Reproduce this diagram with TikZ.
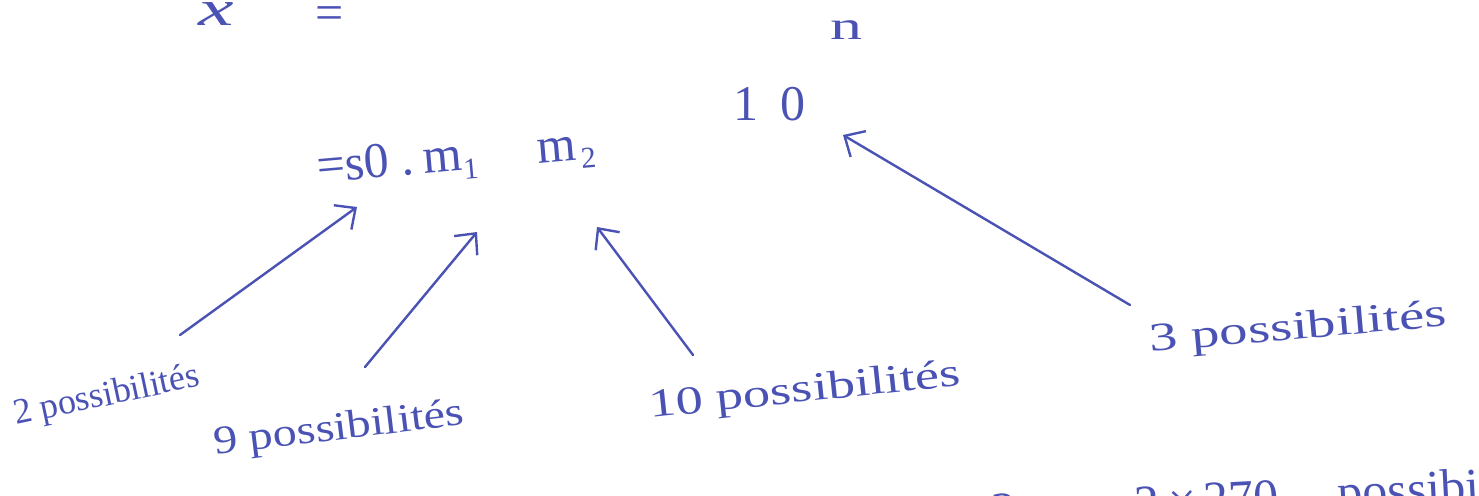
\documentclass[tikz,border=0pt]{standalone}
\usepackage{fontspec}
\setmainfont{Liberation Serif}
\usetikzlibrary{arrows.meta}
\definecolor{ink}{HTML}{4A52B4}
\newcommand{\lowidx}[1]{\raisebox{-9pt}{\fontsize{30}{30}\selectfont #1}}
\tikzset{
  hand/.style={text=ink, font=\fontsize{50}{56}\selectfont, inner sep=0pt},
  small/.style={text=ink, font=\fontsize{40}{46}\selectfont, inner sep=0pt},
  link/.style={draw=ink, line width=2.4pt, line cap=round, -{Straight Barb[length=16pt,width=30pt,line width=2.4pt]}}
}
\begin{document}
\begin{tikzpicture}[x=1pt,y=-1pt]
\useasboundingbox (0,0) rectangle (1479,495);
\begin{scope}
\clip (0,0) rectangle (1479,495);
\node[hand, anchor=base west] (x) at (198,26) {\scalebox{1.6}[1]{\itshape x}\hspace{82pt}\raisebox{-4pt}{=}};
\node[hand, anchor=base west, rotate=5] (expr) at (318,183) {=s0\hspace{12pt}.\hspace{10pt}m\lowidx{1}\hspace{60pt}m\hspace{4pt}\lowidx{2}};
\node[hand, anchor=base west] (ten) at (733,120) {1\hspace{22pt}0};
\node[small, anchor=base west] (exp) at (830,40) {\scalebox{1.6}[1]{n}};
\coordinate (t1) at (357,207);
\coordinate (t2) at (477,232);
\coordinate (t3) at (597,227);
\coordinate (t4) at (843,135);
\node[small, anchor=base west, rotate=12, font=\fontsize{36}{40}\selectfont] (p2) at (16,425) {2 possibilités};
\node[small, anchor=base west, rotate=7] (p9) at (215,455) {\scalebox{1.2}[1]{9 possibilités}};
\node[small, anchor=base west, rotate=6] (p10) at (650,418) {\scalebox{1.36}[1]{10 possibilités}};
\node[small, anchor=base west, rotate=5] (p3) at (1150,352) {\scalebox{1.42}[1]{3 possibilités}};
\node[hand, anchor=base west, rotate=3] (total) at (992,528) {2\hspace{118pt}2\hspace{10pt}×\hspace{6pt}270\hspace{60pt}possibilités};
\draw[link] (180,335) -- (t1);
\draw[link] (365,367) -- (t2);
\draw[link] (693,355) -- (t3);
\draw[link] (1130,305) -- (t4);
\end{scope}
\end{tikzpicture}
\end{document}
